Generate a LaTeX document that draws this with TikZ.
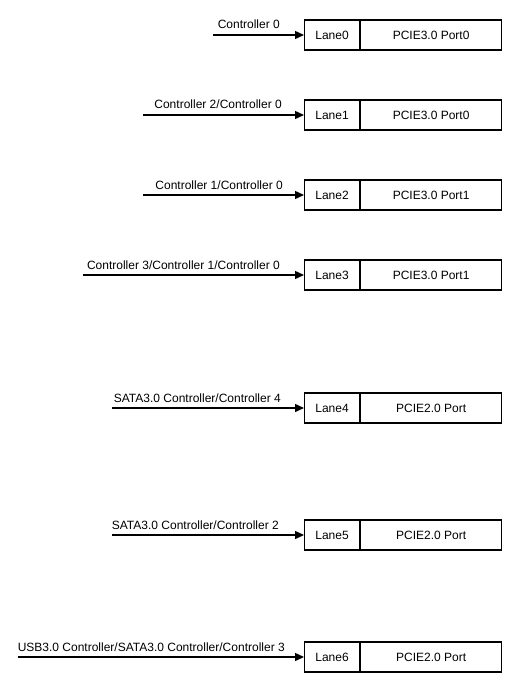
\documentclass[tikz,border=0pt]{standalone}
\usepackage{fontspec}
\setmainfont{Liberation Sans}
\usetikzlibrary{positioning,arrows.meta}

\begin{document}
\begin{tikzpicture}[x=1pt,y=-1pt,>={Triangle[length=9pt,width=8pt]},
    lane node/.style={draw,line width=1.1pt,minimum width=55pt,minimum height=30pt,inner sep=0pt,font=\fontsize{12}{14}\selectfont},
    port node/.style={lane node,minimum width=141pt},
    feed/.style={->,line width=1.4pt},
    ctrl label/.style={anchor=base east,inner sep=0pt,font=\fontsize{12}{14}\selectfont}]
    \useasboundingbox (0,0) rectangle (513,682);
    \foreach \y/\n/\port/\xs/\xe/\txt in {
        35/0/{PCIE3.0 Port0}/213/280/{Controller 0},
        115/1/{PCIE3.0 Port0}/143/282/{Controller 2/Controller 0},
        195/2/{PCIE3.0 Port1}/143/283/{Controller 1/Controller 0},
        275/3/{PCIE3.0 Port1}/83/280/{Controller 3/Controller 1/Controller 0},
        408/4/{PCIE2.0 Port}/112/281/{SATA3.0 Controller/Controller 4},
        535/5/{PCIE2.0 Port}/112/279/{SATA3.0 Controller/Controller 2},
        657/6/{PCIE2.0 Port}/18/285/{USB3.0 Controller/SATA3.0 Controller/Controller 3}}
    {
        \node[lane node,anchor=west] (lane\n) at (304,\y) {Lane\n};
        \node[port node,right=0pt of lane\n] (port\n) {\port};
        \coordinate (src\n) at (\xs,\y);
        \draw[feed] (src\n) -- (lane\n.west);
        \node[ctrl label] (ctrl\n) at (\xe,\y-6) {\txt};
    }
\end{tikzpicture}
\end{document}
